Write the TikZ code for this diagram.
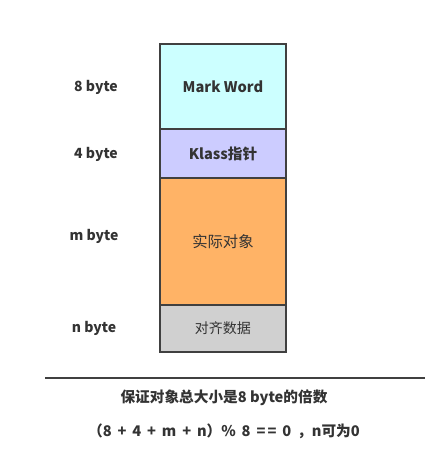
\documentclass[tikz,border=0pt]{standalone}
\usepackage{fontspec}
\setmainfont{Noto Sans CJK SC}
\usepackage{tikz}
\usetikzlibrary{positioning}

\definecolor{markfill}{HTML}{CCFFFF}
\definecolor{klassfill}{HTML}{CCCCFF}
\definecolor{objfill}{HTML}{FFB366}
\definecolor{padfill}{HTML}{D0D0D0}
\definecolor{edge}{HTML}{404040}
\definecolor{ink}{HTML}{333333}

\tikzset{
    cell/.style={draw=edge, line width=1.5pt, minimum width=94.5pt,
        minimum height=#1*0.75pt, anchor=north west, inner sep=0pt,
        outer sep=0pt, text=ink,
        font=\fontsize{11}{13}\selectfont\bfseries},
    size/.style={text=ink, font=\fontsize{10.5}{12}\selectfont\bfseries},
    note/.style={text=ink, font=\fontsize{11}{13}\selectfont\bfseries}
}

\begin{document}
\begin{tikzpicture}[x=0.75pt, y=-0.75pt]
    \useasboundingbox (0, 0) rectangle (425, 469);

    \node[cell=85, fill=markfill] (mark) at (160, 44) {Mark Word};
    \node[cell=49, fill=klassfill] (klass) at (mark.south west) {Klass指针};
    \node[cell=127, fill=objfill] (obj) at (klass.south west)
        {\mdseries\fontsize{11.5}{13}\selectfont 实际对象};
    \node[cell=47, fill=padfill] (pad) at (obj.south west)
        {\mdseries\fontsize{10.5}{12}\selectfont 对齐数据};

    \node[size] (s8) at (96, 87) {8 byte};
    \node[size] (s4) at (96, 154) {4 byte};
    \node[size] (sm) at (94, 236) {m byte};
    \node[size] (sn) at (94, 328) {n byte};

    \coordinate (L) at (45, 378);
    \coordinate (R) at (425, 378);
    \draw[edge, line width=1.5pt] (L) -- (R);

    \node[note] (rule) at (224, 398) {保证对象总大小是8 byte的倍数};
    \node[note] (formula) at (224, 431)
        {\spaceskip=0.4em （8 + 4 + m + n）\% 8 =\kern0.15em= 0 ，n可为0};
\end{tikzpicture}
\end{document}
